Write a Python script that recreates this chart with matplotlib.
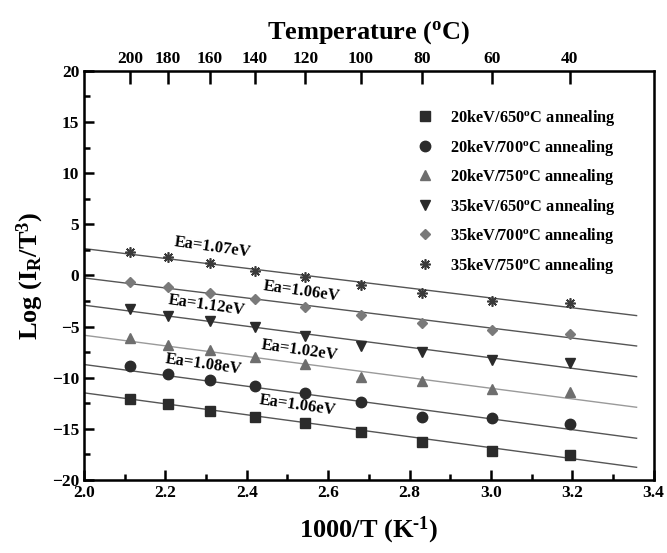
import numpy as np
import matplotlib
matplotlib.use('Agg')
import matplotlib.pyplot as plt
from matplotlib.ticker import MultipleLocator

plt.rcParams['font.family'] = 'Liberation Serif'
plt.rcParams['font.weight'] = 'bold'
plt.rcParams['mathtext.fontset'] = 'custom'
plt.rcParams['mathtext.rm'] = 'Liberation Serif:bold'
plt.rcParams['mathtext.it'] = 'Liberation Serif:bold'
plt.rcParams['mathtext.bf'] = 'Liberation Serif:bold'

# measurement temperatures (C) -> 1000/T
temps_c = [200, 180, 160, 140, 120, 100, 80, 60, 40]
inv_t = [1000.0 / (t + 273.15) for t in temps_c]

labels = ['20keV/650$^{\\rm o}$C annealing', '20keV/700$^{\\rm o}$C annealing',
          '20keV/750$^{\\rm o}$C annealing', '35keV/650$^{\\rm o}$C annealing',
          '35keV/700$^{\\rm o}$C annealing', '35keV/750$^{\\rm o}$C annealing']

y_650_20 = [-12.08, -12.57, -13.25, -13.87, -14.46, -15.27, -16.25, -17.13, -17.55]
y_700_20 = [-8.85, -9.63, -10.22, -10.78, -11.46, -12.40, -13.81, -13.97, -14.52]
y_750_20 = [-6.14, -6.80, -7.29, -7.94, -8.66, -9.90, -10.32, -11.13, -11.36]
y_650_35 = [-3.31, -3.96, -4.45, -5.07, -5.92, -6.90, -7.45, -8.27, -8.59]
y_700_35 = [-0.67, -1.09, -1.68, -2.33, -3.11, -3.86, -4.68, -5.33, -5.75]
y_750_35 = [2.27, 1.78, 1.19, 0.44, -0.18, -0.93, -1.74, -2.46, -2.66]
series = [y_650_20, y_700_20, y_750_20, y_650_35, y_700_35, y_750_35]

# fitted lines: value at x=2.0 and at x=3.358
fit_x = [2.0, 3.358]
fit_start = [-11.48, -8.71, -5.85, -2.91, -0.25, 2.62]
fit_end = [-18.76, -15.92, -12.89, -9.90, -6.90, -3.93]

markers = ['s', 'o', '^', 'v', 'D', (8, 2, 0)]
msizes = [7, 7.5, 7.5, 7.5, 5.5, 7.5]
colors = ['#2b2b2b', '#2b2b2b', '#6e6e6e', '#2b2b2b', '#7a7a7a', '#3a3a3a']
line_colors = ['#555555', '#555555', '#9a9a9a', '#555555', '#555555', '#555555']

# activation energy annotations
ea_text = ['Ea=1.06eV', 'Ea=1.08eV', 'Ea=1.02eV', 'Ea=1.12eV', 'Ea=1.06eV', 'Ea=1.07eV']
ea_x = [2.526, 2.293, 2.531, 2.302, 2.536, 2.315]
ea_y = [-12.67, -8.75, -7.38, -2.98, -1.52, 2.69]

fig = plt.figure(figsize=(6.67, 5.53), dpi=100)
ax = fig.add_axes([0.126, 0.132, 0.854, 0.740])

for i in range(len(series)):
    ax.plot(fit_x, [fit_start[i], fit_end[i]], color=line_colors[i], lw=1.0, zorder=1)
    mk = markers[i]
    if i == 5:
        ax.plot(inv_t, series[i], linestyle='none', marker=mk, ms=msizes[i],
                markeredgecolor=colors[i], markerfacecolor='none', mew=1.2,
                label=labels[i], zorder=3)
    else:
        ax.plot(inv_t, series[i], linestyle='none', marker=mk, ms=msizes[i],
                color=colors[i], mec=colors[i], label=labels[i], zorder=3)

for t, x, y in zip(ea_text, ea_x, ea_y):
    ax.text(x, y, t, fontsize=12, fontweight='bold', rotation=-8,
            ha='center', va='center', zorder=4)

ax.set_xlim(2.0, 3.4)
ax.set_ylim(-20, 20)
ax.xaxis.set_major_locator(MultipleLocator(0.2))
ax.xaxis.set_minor_locator(MultipleLocator(0.1))
ax.yaxis.set_major_locator(MultipleLocator(5))
ax.yaxis.set_minor_locator(MultipleLocator(2.5))
ax.xaxis.set_major_formatter(matplotlib.ticker.FormatStrFormatter('%.1f'))
ax.tick_params(which='both', direction='in', top=False, right=False, labelsize=12.5, width=1.8)
ax.tick_params(which='major', length=7)
ax.tick_params(which='minor', length=4)
for s in ax.spines.values():
    s.set_linewidth(1.8)

ax.set_xlabel('1000/T (K$^{\\rm \u2010 1}$)', fontsize=19, fontweight='bold', labelpad=10)
ax.set_ylabel('Log (I$_{\\rm R}$/T$^{\\rm 3}$)', fontsize=19, fontweight='bold', labelpad=4)

# top axis: temperature
ax2 = ax.twiny()
ax2.set_xlim(ax.get_xlim())
ax2.set_xticks(inv_t)
ax2.set_xticklabels([str(t) for t in temps_c])
ax2.xaxis.set_minor_locator(plt.NullLocator())
ax2.tick_params(direction='in', length=9, width=1.8, labelsize=12.5, pad=3)
ax2.set_xlabel('Temperature ($^{\\rm o}$C)', fontsize=19, fontweight='bold', labelpad=9)

ax.legend(loc='upper left', bbox_to_anchor=(0.57, 0.925), frameon=False,
          fontsize=11.8, handletextpad=0.9, labelspacing=0.58, borderaxespad=0,
          handlelength=1.2, numpoints=1)

fig.savefig('out.png', dpi=100)
